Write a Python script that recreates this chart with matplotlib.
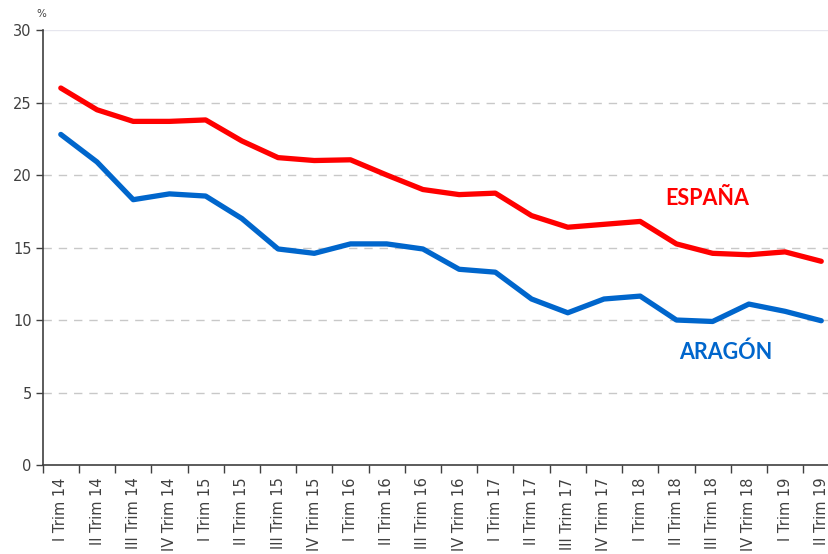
import matplotlib
matplotlib.use("Agg")
import matplotlib.pyplot as plt
import numpy as np

# --- data ---
trimestres = [
    "I Trim 14", "II Trim 14", "III Trim 14", "IV Trim 14",
    "I Trim 15", "II Trim 15", "III Trim 15", "IV Trim 15",
    "I Trim 16", "II Trim 16", "III Trim 16", "IV Trim 16",
    "I Trim 17", "II Trim 17", "III Trim 17", "IV Trim 17",
    "I Trim 18", "II Trim 18", "III Trim 18", "IV Trim 18",
    "I Trim 19", "II Trim 19",
]
espana = [26.0, 24.5, 23.7, 23.7, 23.8, 22.35, 21.2, 21.0, 21.05, 20.0, 19.0,
          18.65, 18.75, 17.2, 16.4, 16.6, 16.8, 15.25, 14.6, 14.5, 14.7, 14.05]
aragon = [22.8, 20.9, 18.3, 18.7, 18.55, 17.0, 14.9, 14.6, 15.25, 15.25, 14.9,
          13.5, 13.3, 11.45, 10.5, 11.45, 11.65, 10.0, 9.9, 11.1, 10.6, 9.95]
y_ticks = [0, 5, 10, 15, 20, 25, 30]

RED = "#ff0000"
BLUE = "#0066cc"
AXIS = "#404040"

fig = plt.figure(figsize=(8.29, 5.54), dpi=100)
ax = fig.add_axes([0.0515, 0.1606, 0.961, 0.7852])

x = np.arange(len(trimestres))

# gridlines
for v in y_ticks[1:-1]:
    ax.axhline(v, color="#c8c8c8", lw=1, ls=(0, (6, 5)), zorder=0)
ax.axhline(y_ticks[-1], color="#e6e6ee", lw=1, zorder=0)

ax.plot(x, espana, color=RED, lw=3.8, solid_capstyle="round", solid_joinstyle="round", zorder=3)
ax.plot(x, aragon, color=BLUE, lw=3.8, solid_capstyle="round", solid_joinstyle="round", zorder=3)

ax.set_xlim(-0.5, len(trimestres) - 0.5)
ax.set_ylim(0, 30)

# category labels at centers, tick marks between categories
ax.set_xticks(x)
ax.set_xticklabels(trimestres, rotation=90, fontsize=10.5, color=AXIS)
ax.set_xticks(np.arange(len(trimestres) + 1) - 0.5, minor=True)
ax.tick_params(axis="x", which="major", length=0, pad=9)
ax.tick_params(axis="x", which="minor", length=6, width=1, color=AXIS, direction="out")

ax.set_yticks(y_ticks)
ax.set_yticklabels([str(v) for v in y_ticks], fontsize=10.5, color=AXIS)
ax.tick_params(axis="y", length=5, width=1, color=AXIS, direction="out", pad=3)

for s in ["top", "right"]:
    ax.spines[s].set_visible(False)
for s in ["left", "bottom"]:
    ax.spines[s].set_color(AXIS)
    ax.spines[s].set_linewidth(1.2)

fig.text(0.044, 0.975, "%", fontsize=7.5, color=AXIS, ha="left", va="center")

ax.text(17.85, 18.4, "ESPAÑA", color=RED, fontsize=15.5, fontweight="bold",
        family="Lato", ha="center", va="center")
ax.text(18.35, 7.75, "ARAGÓN", color=BLUE, fontsize=15.5, fontweight="bold",
        family="Lato", ha="center", va="center")

fig.savefig("out.png", dpi=100)
